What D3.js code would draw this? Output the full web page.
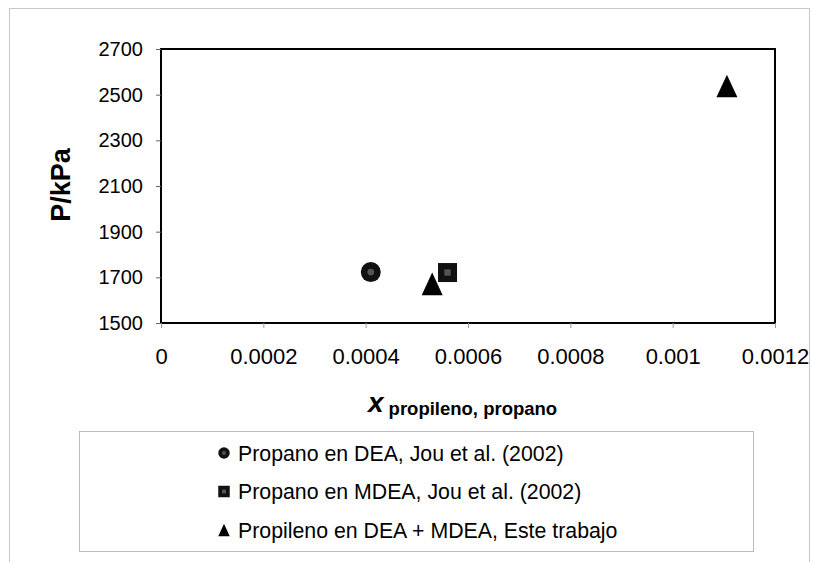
<!DOCTYPE html>
<html><head><meta charset="utf-8">
<script src="https://cdn.jsdelivr.net/npm/d3@7"></script>
<style>body{margin:0;background:#fff}svg{display:block}text{font-family:"Liberation Sans",Arial,sans-serif;fill:#000}</style>
</head><body><svg id="c" width="813" height="562"></svg>
<script>
const seriesNames = ["Propano en DEA, Jou et al. (2002)", "Propano en MDEA, Jou et al. (2002)", "Propileno en DEA + MDEA, Este trabajo"];
const seriesSymbols = ["circle", "square", "triangle"];
const circleX = [0.00041];
const circleP = [1723];
const squareX = [0.00056];
const squareP = [1721];
const triangleX = [0.00053, 0.001106];
const triangleP = [1671, 2538];
const xTicks = [0, 0.0002, 0.0004, 0.0006, 0.0008, 0.001, 0.0012];
const xTickLabels = ["0", "0.0002", "0.0004", "0.0006", "0.0008", "0.001", "0.0012"];
const yTicks = [1500, 1700, 1900, 2100, 2300, 2500, 2700];

const svg = d3.select("#c");
const L = 161, R = 775, T = 49, B = 323;
const x = d3.scaleLinear().domain([0, 0.0012]).range([L, R]);
const y = d3.scaleLinear().domain([1500, 2700]).range([B, T]);

// outer chart border
svg.append("rect").attr("x", 9.5).attr("y", 8.5).attr("width", 800).attr("height", 570)
  .attr("fill", "none").attr("stroke", "#c8c8c8").attr("stroke-width", 1);

// plot frame
svg.append("rect").attr("x", L).attr("y", T).attr("width", R - L).attr("height", B - T)
  .attr("fill", "none").attr("stroke", "#000").attr("stroke-width", 2);

const yAxis = svg.append("g").attr("transform", `translate(${L},0)`)
  .call(d3.axisLeft(y).tickValues(yTicks).tickSize(5).tickPadding(13).tickFormat(d3.format("d")));
yAxis.select(".domain").remove();
yAxis.selectAll("text").style("font-size", "20px");
yAxis.selectAll("line").attr("stroke", "#666");

const xAxis = svg.append("g").attr("transform", `translate(0,${B})`)
  .call(d3.axisBottom(x).tickValues(xTicks).tickSize(5).tickPadding(20).tickFormat((d, i) => xTickLabels[i]));
xAxis.select(".domain").remove();
xAxis.selectAll("text").style("font-size", "22px");
xAxis.selectAll("line").attr("stroke", "#999");

// axis titles
svg.append("text").attr("transform", `translate(70,185) rotate(-90)`)
  .attr("text-anchor", "middle").style("font-size", "27px").style("font-weight", "bold").text("P/kPa");
const xt = svg.append("text").attr("x", 368).attr("y", 412).attr("text-anchor", "start");
xt.append("tspan").style("font-size", "28px").style("font-weight", "bold").style("font-style", "italic").text("x");
xt.append("tspan").attr("dx", 5).attr("dy", 3).style("font-size", "18.5px").style("font-weight", "bold").text("propileno, propano");

function drawSym(g, type, cx, cy, s) {
  if (type === "circle") {
    g.append("circle").attr("cx", cx).attr("cy", cy).attr("r", s / 2).attr("fill", "#111");
    g.append("circle").attr("cx", cx).attr("cy", cy).attr("r", s / 6).attr("fill", "#555");
  } else if (type === "square") {
    g.append("rect").attr("x", cx - s / 2).attr("y", cy - s / 2).attr("width", s).attr("height", s).attr("fill", "#111");
    g.append("rect").attr("x", cx - s / 6).attr("y", cy - s / 6).attr("width", s / 3).attr("height", s / 3).attr("fill", "#555");
  } else {
    const h = s * 1.08;
    g.append("path").attr("d", `M${cx},${cy - h / 2}L${cx + s / 2},${cy + h / 2}L${cx - s / 2},${cy + h / 2}Z`).attr("fill", "#000");
  }
}

const pts = svg.append("g");
circleX.forEach((v, i) => drawSym(pts, "circle", x(v), y(circleP[i]), 20));
squareX.forEach((v, i) => drawSym(pts, "square", x(v), y(squareP[i]), 19));
triangleX.forEach((v, i) => drawSym(pts, "triangle", x(v), y(triangleP[i]), 21));

// legend
svg.append("rect").attr("x", 79.5).attr("y", 431.5).attr("width", 674).attr("height", 120)
  .attr("fill", "none").attr("stroke", "#bbb").attr("stroke-width", 1);
const lg = svg.append("g");
seriesNames.forEach((n, i) => {
  const cy = 453 + i * 38.5;
  drawSym(lg, seriesSymbols[i], 224, cy, 11.5);
  lg.append("text").attr("x", 238).attr("y", cy + 7.5).style("font-size", "21.3px").text(n);
});
</script></body></html>
